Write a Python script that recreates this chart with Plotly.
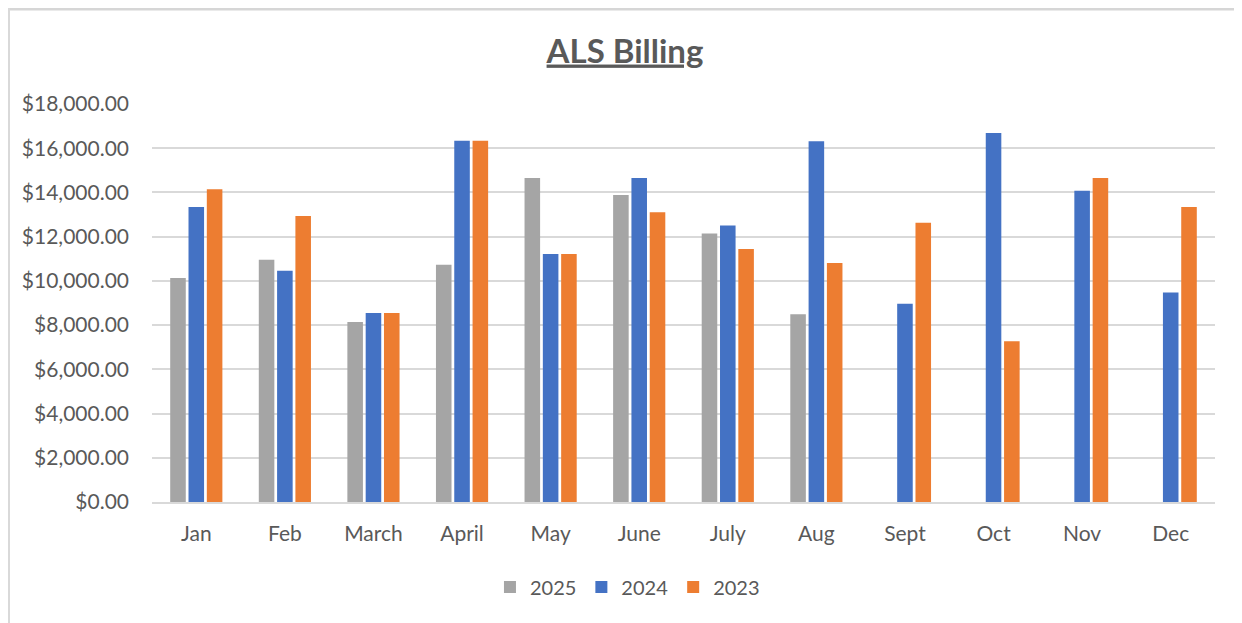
import plotly.graph_objects as go

# Monthly billing values
months = ["Jan", "Feb", "March", "April", "May", "June",
          "July", "Aug", "Sept", "Oct", "Nov", "Dec"]
billing_2025 = [10130, 10960, 8140, 10730, 14650, 13890,
                12140, 8490, None, None, None, None]
billing_2024 = [13340, 10460, 8550, 16340, 11220, 14650,
                12510, 16310, 8970, 16690, 14080, 9470]
billing_2023 = [14140, 12940, 8550, 16340, 11220, 13100,
                11440, 10810, 12630, 7270, 14650, 13340]
y_ticks = [0, 2000, 4000, 6000, 8000, 10000, 12000, 14000, 16000, 18000]

text_color = "#595959"
grid_color = "#D9D9D9"

fig = go.Figure()
fig.add_trace(go.Bar(x=months, y=billing_2025, name="2025", marker_color="#A5A5A5"))
fig.add_trace(go.Bar(x=months, y=billing_2024, name="2024", marker_color="#4472C4"))
fig.add_trace(go.Bar(x=months, y=billing_2023, name="2023", marker_color="#ED7D31"))

fig.update_traces(marker_line_width=0)

# page body adds an 8px offset, so figure is sized/placed to compensate
FW, FH = 1234, 615
L, R, T, B = 144, 1207, 96, 494   # plot area in figure pixels
W, H = R - L, B - T

fig.update_layout(
    width=FW, height=FH,
    margin=dict(l=L, r=FW - R, t=T, b=FH - B),
    paper_bgcolor="white",
    plot_bgcolor="white",
    barmode="group",
    bargap=0.38,
    bargroupgap=0.15,
    font=dict(family="Lato", size=21, color=text_color),
    title=dict(
        text="ALS Billing",
        x=0.5, xref="container", xanchor="center",
        y=1 - 43 / FH, yref="container", yanchor="middle",
        font=dict(family="Lato", size=33, weight="bold", color=text_color,
                  lineposition="under"),
    ),
    legend=dict(
        orientation="h",
        x=0.502, xref="container", xanchor="center",
        y=1 - 579 / FH, yref="container", yanchor="middle",
        font=dict(size=20, color=text_color),
        itemwidth=30,
        traceorder="normal",
    ),
    xaxis=dict(
        showgrid=False,
        showline=True, linecolor=grid_color, linewidth=2,
        ticks="",
        ticklabelstandoff=12,
        tickfont=dict(size=21, color=text_color),
    ),
    yaxis=dict(
        range=[0, 18000],
        tickvals=y_ticks,
        tickformat="$,.2f",
        showgrid=True, gridcolor=grid_color, gridwidth=2,
        zeroline=False,
        showline=False,
        ticks="",
        ticklabelstandoff=22,
        tickfont=dict(size=21, color=text_color),
    ),
    shapes=[
        # chart frame edges (top and left)
        dict(type="line", xref="paper", yref="paper",
             x0=(0 - L) / W, x1=(FW - L) / W,
             y0=(B - 1) / H, y1=(B - 1) / H,
             line=dict(color="#D6D6D6", width=3)),
        dict(type="line", xref="paper", yref="paper",
             x0=(1 - L) / W, x1=(1 - L) / W,
             y0=B / H, y1=(B - FH) / H,
             line=dict(color="#D9D9D9", width=2)),
    ],
)

fig.write_html("out.html")
